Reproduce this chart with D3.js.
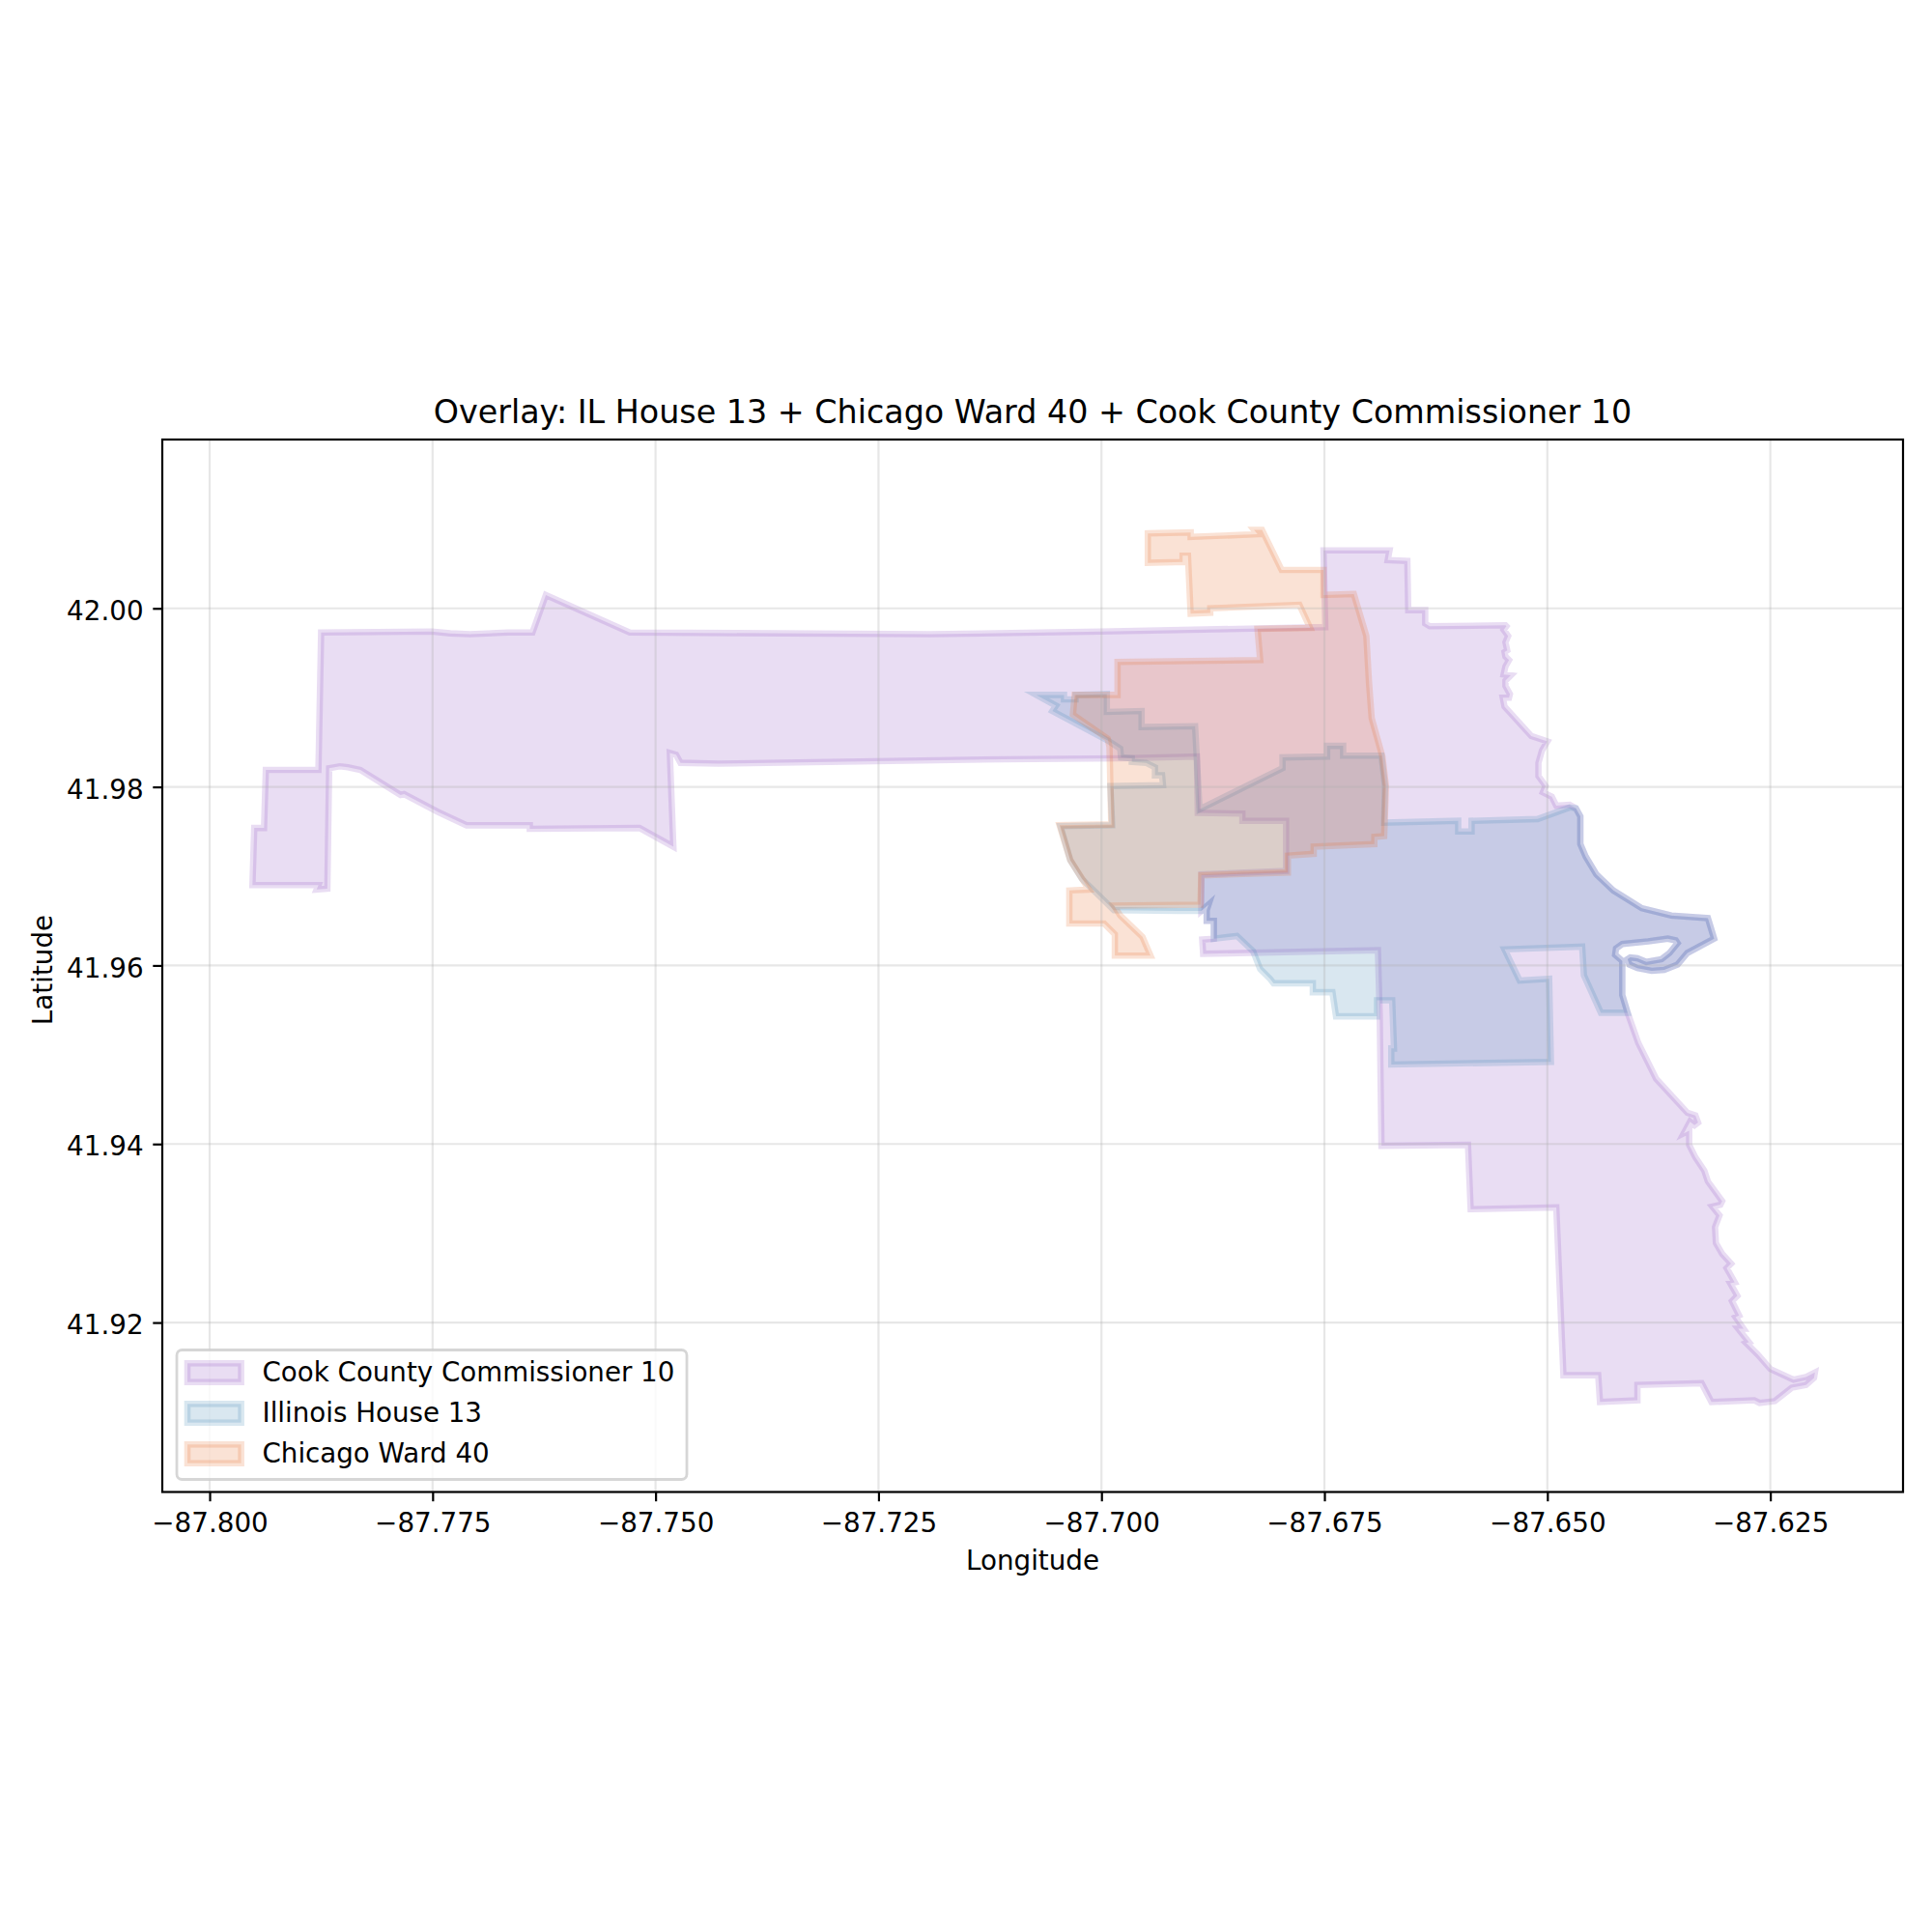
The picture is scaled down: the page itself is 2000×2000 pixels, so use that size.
<!DOCTYPE html>
<html>
<head>
<meta charset="utf-8">
<script src="https://cdn.jsdelivr.net/npm/d3@7"></script>
<style>
  body { margin: 0; background: #fff; }
  text { font-family: "DejaVu Sans"; fill: #000; }
</style>
</head>
<body>
<div id="chart"></div>
<script>
// district outlines, [lon, lat]
const lakeShore = [[-87.6468,41.9776],[-87.6463,41.9767],[-87.6463,41.9736],[-87.6457,41.9722],[-87.6445,41.9702],[-87.6426,41.9684],[-87.6394,41.9664],[-87.6361,41.9656],[-87.6320,41.9653],[-87.6313,41.9630],[-87.6343,41.9614],[-87.6354,41.9601],[-87.6369,41.9595],[-87.6383,41.9594],[-87.6399,41.9597],[-87.6408,41.9601],[-87.6410,41.9607],[-87.6407,41.9609],[-87.6399,41.9608],[-87.6389,41.9604],[-87.6372,41.9607],[-87.6363,41.9614],[-87.6354,41.9625],[-87.6356,41.9628],[-87.6365,41.9630],[-87.6387,41.9627],[-87.6416,41.9624],[-87.6423,41.9619],[-87.6424,41.9612],[-87.6416,41.9605],[-87.6416,41.9589],[-87.6416,41.9567],[-87.6410,41.9547]];
const sharedWestStep = [[-87.6874,41.9630],[-87.6874,41.9650],[-87.6882,41.9650],[-87.6882,41.9662],[-87.6880,41.9668],[-87.6888,41.9661]];

const cookNorth = [[-87.7875,41.9973],[-87.7751,41.9974],[-87.7730,41.9972],[-87.7708,41.9971],[-87.7665,41.9973],[-87.7638,41.9973],[-87.7623,42.0015],[-87.7529,41.9973],[-87.7192,41.9971],[-87.7000,41.9974],[-87.6749,41.9979],[-87.6751,42.0065],[-87.6677,42.0065],[-87.6679,42.0054],[-87.6657,42.0053],[-87.6656,41.9998],[-87.6637,41.9998],[-87.6637,41.9983],[-87.6632,41.9980],[-87.6547,41.9981],[-87.6546,41.9980],[-87.6549,41.9976],[-87.6544,41.9969],[-87.6547,41.9962],[-87.6545,41.9953],[-87.6548,41.9951],[-87.6547,41.9946],[-87.6543,41.9942],[-87.6547,41.9935],[-87.6549,41.9926],[-87.6541,41.9925],[-87.6547,41.9919],[-87.6547,41.9913],[-87.6542,41.9904],[-87.6543,41.9900],[-87.6550,41.9900],[-87.6548,41.9890],[-87.6518,41.9857],[-87.6500,41.9851],[-87.6506,41.9841],[-87.6510,41.9827],[-87.6510,41.9812],[-87.6502,41.9801],[-87.6505,41.9794],[-87.6495,41.9789],[-87.6490,41.9779],[-87.6475,41.9780]];
const cookSouth = [[-87.6398,41.9513],[-87.6378,41.9473],[-87.6343,41.9435],[-87.6334,41.9432],[-87.6331,41.9424],[-87.6335,41.9421],[-87.6340,41.9425],[-87.6347,41.9412],[-87.6341,41.9415],[-87.6341,41.9399],[-87.6334,41.9385],[-87.6324,41.9370],[-87.6320,41.9358],[-87.6304,41.9336],[-87.6306,41.9332],[-87.6315,41.9330],[-87.6307,41.9320],[-87.6312,41.9307],[-87.6311,41.9289],[-87.6304,41.9277],[-87.6294,41.9266],[-87.6299,41.9261],[-87.6290,41.9245],[-87.6295,41.9244],[-87.6287,41.9230],[-87.6293,41.9224],[-87.6285,41.9208],[-87.6289,41.9206],[-87.6280,41.9193],[-87.6286,41.9193],[-87.6274,41.9178],[-87.6277,41.9177],[-87.6264,41.9164],[-87.6250,41.9148],[-87.6224,41.9136],[-87.6210,41.9139],[-87.6200,41.9144],[-87.6201,41.9138],[-87.6210,41.9130],[-87.6226,41.9127],[-87.6245,41.9112],[-87.6262,41.9110],[-87.6268,41.9113],[-87.6316,41.9111],[-87.6327,41.9132],[-87.6399,41.9130],[-87.6399,41.9113],[-87.6441,41.9111],[-87.6443,41.9141],[-87.6482,41.9141],[-87.6490,41.9329],[-87.6586,41.9327],[-87.6589,41.9399],[-87.6686,41.9398],[-87.6688,41.9545],[-87.6690,41.9617],[-87.6886,41.9613],[-87.6887,41.9629]];
const cookWest = [[-87.6888,41.9702],[-87.6793,41.9706],[-87.6793,41.9762],[-87.6842,41.9762],[-87.6842,41.9770],[-87.6892,41.9771],[-87.6893,41.9834],[-87.6977,41.9832],[-87.7109,41.9831],[-87.7430,41.9826],[-87.7472,41.9827],[-87.7477,41.9836],[-87.7484,41.9838],[-87.7480,41.9733],[-87.7518,41.9754],[-87.7641,41.9753],[-87.7641,41.9757],[-87.7712,41.9757],[-87.7744,41.9772],[-87.7782,41.9792],[-87.7786,41.9791],[-87.7831,41.9819],[-87.7845,41.9822],[-87.7854,41.9823],[-87.7866,41.9821],[-87.7868,41.9686],[-87.7880,41.9685],[-87.7878,41.9690],[-87.7952,41.9690],[-87.7950,41.9754],[-87.7939,41.9754],[-87.7937,41.9819],[-87.7878,41.9819]];

const houseNorth = [[-87.7073,41.9903],[-87.7042,41.9903],[-87.7042,41.9898],[-87.7029,41.9898],[-87.7029,41.9903],[-87.6994,41.9904],[-87.6994,41.9884],[-87.6955,41.9885],[-87.6955,41.9867],[-87.6895,41.9868],[-87.6890,41.9775],[-87.6797,41.9821],[-87.6797,41.9833],[-87.6747,41.9834],[-87.6747,41.9846],[-87.6729,41.9846],[-87.6729,41.9835],[-87.6686,41.9835],[-87.6682,41.9801],[-87.6683,41.9760],[-87.6600,41.9762],[-87.6600,41.9750],[-87.6585,41.9750],[-87.6585,41.9762],[-87.6511,41.9764],[-87.6475,41.9777]];
const houseSouth = [[-87.6440,41.9547],[-87.6459,41.9589],[-87.6461,41.9621],[-87.6548,41.9618],[-87.6531,41.9583],[-87.6498,41.9585],[-87.6496,41.9492],[-87.6675,41.9489],[-87.6675,41.9507],[-87.6672,41.9507],[-87.6674,41.9561],[-87.6691,41.9561],[-87.6691,41.9543],[-87.6737,41.9543],[-87.6741,41.9570],[-87.6763,41.9570],[-87.6763,41.9580],[-87.6807,41.9580],[-87.6811,41.9585],[-87.6822,41.9596],[-87.6830,41.9616],[-87.6848,41.9633]];
const houseWest = [[-87.6914,41.9661],[-87.6986,41.9662],[-87.7022,41.9697],[-87.7035,41.9718],[-87.7046,41.9756],[-87.6988,41.9757],[-87.6990,41.9801],[-87.6931,41.9802],[-87.6932,41.9813],[-87.6940,41.9813],[-87.6940,41.9822],[-87.6950,41.9827],[-87.6966,41.9828],[-87.6966,41.9832],[-87.6978,41.9833],[-87.6979,41.9843],[-87.6993,41.9852],[-87.7055,41.9885],[-87.7051,41.9891]];

const wardOutline = [[-87.6948,42.0084],[-87.6900,42.0085],[-87.6900,42.0080],[-87.6825,42.0083],[-87.6829,42.0088],[-87.6820,42.0088],[-87.6798,42.0043],[-87.6751,42.0043],[-87.6751,42.0015],[-87.6717,42.0016],[-87.6703,41.9969],[-87.6700,41.9917],[-87.6697,41.9877],[-87.6685,41.9834],[-87.6681,41.9801],[-87.6683,41.9745],[-87.6694,41.9744],[-87.6694,41.9736],[-87.6762,41.9733],[-87.6762,41.9725],[-87.6791,41.9723],[-87.6791,41.9704],[-87.6888,41.9701],[-87.6889,41.9668],[-87.6986,41.9667],[-87.6979,41.9656],[-87.6954,41.9632],[-87.6945,41.9611],[-87.6985,41.9611],[-87.6985,41.9635],[-87.6997,41.9647],[-87.7036,41.9647],[-87.7036,41.9684],[-87.7014,41.9685],[-87.7035,41.9718],[-87.7047,41.9757],[-87.6989,41.9758],[-87.6991,41.9845],[-87.6993,41.9854],[-87.7032,41.9881],[-87.7030,41.9903],[-87.6982,41.9903],[-87.6982,41.9940],[-87.6822,41.9942],[-87.6825,41.9977],[-87.6766,41.9978],[-87.6778,42.0004],[-87.6804,42.0003],[-87.6878,42.0000],[-87.6878,41.9995],[-87.6900,41.9994],[-87.6903,42.0059],[-87.6909,42.0059],[-87.6909,42.0052],[-87.6948,42.0051]];

const cookRing = [...cookNorth, ...lakeShore, ...cookSouth, ...sharedWestStep, ...cookWest];
const houseRing = [...houseNorth, ...lakeShore, ...houseSouth, ...sharedWestStep, ...houseWest];

const seriesNames = ["Cook County Commissioner 10", "Illinois House 13", "Chicago Ward 40"];
const seriesColors = ["#9155c4", "#4086b6", "#e66d2e"];
const seriesRings = [cookRing, houseRing, wardOutline];

const lonTicks = [-87.8, -87.775, -87.75, -87.725, -87.7, -87.675, -87.65, -87.625];
const latTicks = [41.92, 41.94, 41.96, 41.98, 42.0];

const width = 2000, height = 2000;
const frame = {left: 168, right: 1970, top: 455, bottom: 1544.5};

const x = d3.scaleLinear().domain([-87.80531, -87.61012]).range([frame.left, frame.right]);
const y = d3.scaleLinear().domain([41.90102, 42.01891]).range([frame.bottom, frame.top]);

const svg = d3.select("#chart").append("svg")
    .attr("width", width).attr("height", height)
    .style("display", "block");

const line = d3.line().x(d => x(d[0])).y(d => y(d[1]));

// polygons first, the grid sits on top of them
svg.append("g").selectAll("path")
    .data(seriesRings)
    .join("path")
    .attr("d", d => line(d) + "Z")
    .attr("fill", (d, i) => seriesColors[i])
    .attr("stroke", (d, i) => seriesColors[i])
    .attr("fill-opacity", 0.2)
    .attr("stroke-opacity", 0.2)
    .attr("stroke-width", 6.6)
    .attr("stroke-linejoin", "miter")
    .attr("stroke-miterlimit", 10);

const grid = svg.append("g");
lonTicks.forEach(t => {
    grid.append("line").attr("x1", x(t)).attr("x2", x(t)).attr("y1", frame.top).attr("y2", frame.bottom);
});
latTicks.forEach(t => {
    grid.append("line").attr("x1", frame.left).attr("x2", frame.right).attr("y1", y(t)).attr("y2", y(t));
});
grid.selectAll("line").attr("stroke", "#b0b0b0").attr("stroke-opacity", 0.3).attr("stroke-width", 2.2);

const fmtLon = d => d3.format(".3f")(d).replace("-", "\u2212");
const axisBottom = d3.axisBottom(x).tickValues(lonTicks).tickFormat(fmtLon).tickSize(9.7).tickPadding(12);
const axisLeft = d3.axisLeft(y).tickValues(latTicks).tickFormat(d3.format(".2f")).tickSize(9.7).tickPadding(9.7);

const gx = svg.append("g").attr("transform", `translate(0,${frame.bottom})`).call(axisBottom);
const gy = svg.append("g").attr("transform", `translate(${frame.left},0)`).call(axisLeft);
[gx, gy].forEach(g => {
    g.select(".domain").remove();
    g.selectAll("line").attr("stroke", "#000").attr("stroke-width", 2.2);
    g.selectAll("text").attr("font-family", "DejaVu Sans").attr("font-size", 27.78);
});
gy.selectAll("text").attr("dy", "0.42em");

svg.append("rect")
    .attr("x", frame.left).attr("y", frame.top)
    .attr("width", frame.right - frame.left).attr("height", frame.bottom - frame.top)
    .attr("fill", "none").attr("stroke", "#000").attr("stroke-width", 2.2);

svg.append("text").attr("x", (frame.left + frame.right) / 2).attr("y", 438)
    .attr("text-anchor", "middle").attr("font-size", 33.33)
    .text("Overlay: IL House 13 + Chicago Ward 40 + Cook County Commissioner 10");
svg.append("text").attr("x", (frame.left + frame.right) / 2).attr("y", 1625)
    .attr("text-anchor", "middle").attr("font-size", 27.78).text("Longitude");
svg.append("text").attr("transform", `translate(54,1004) rotate(-90)`)
    .attr("text-anchor", "middle").attr("font-size", 27.78).text("Latitude");

// legend
const legend = svg.append("g");
legend.append("rect")
    .attr("x", 183).attr("y", 1397.5).attr("width", 528).attr("height", 134).attr("rx", 5.5)
    .attr("fill", "#fff").attr("fill-opacity", 0.8)
    .attr("stroke", "#ccc").attr("stroke-opacity", 0.8).attr("stroke-width", 2.8);
const legendY = [1421, 1463, 1505];
seriesNames.forEach((name, i) => {
    legend.append("rect")
        .attr("x", 194).attr("y", legendY[i] - 9.7).attr("width", 55.6).attr("height", 19.4)
        .attr("fill", seriesColors[i]).attr("stroke", seriesColors[i])
        .attr("fill-opacity", 0.2).attr("stroke-opacity", 0.2).attr("stroke-width", 6.6);
    legend.append("text").attr("x", 271.5).attr("y", legendY[i] + 9)
        .attr("font-size", 27.7).text(name);
});
</script>
</body>
</html>
